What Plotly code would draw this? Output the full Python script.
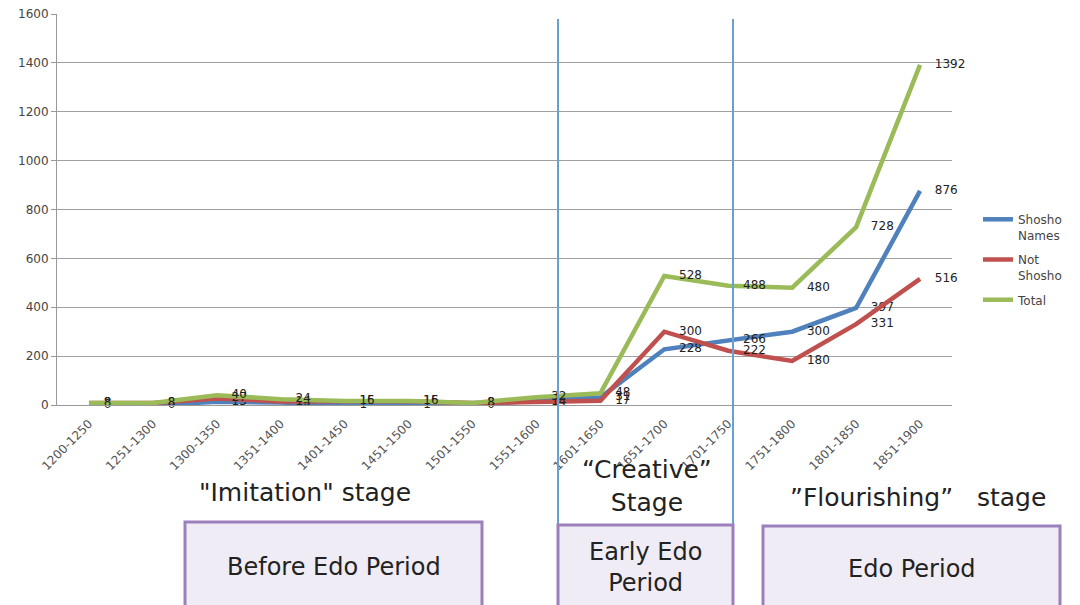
import plotly.graph_objects as go

# Half-century periods
periods = ["1200-1250", "1251-1300", "1300-1350", "1351-1400", "1401-1450",
           "1451-1500", "1501-1550", "1551-1600", "1601-1650", "1651-1700",
           "1701-1750", "1751-1800", "1801-1850", "1851-1900"]

shosho_names = [0, 0, 13, 10, 1, 1, 0, 18, 31, 228, 266, 300, 397, 876]
not_shosho = [8, 8, 27, 14, 15, 15, 8, 14, 17, 300, 222, 180, 331, 516]
total = [8, 8, 40, 24, 16, 16, 8, 32, 48, 528, 488, 480, 728, 1392]

series = [
    ("Shosho<br>Names", shosho_names, "#4F81BD"),
    ("Not<br>Shosho", not_shosho, "#C0504D"),
    ("Total", total, "#9BBB59"),
]

FONT = "DejaVu Sans"

fig = go.Figure()
for i, (name, vals, color) in enumerate(series):
    fig.add_trace(go.Scatter(
        x=periods, y=vals, name=name, legendgroup=f"g{i}",
        mode="lines+markers+text",
        line=dict(color=color, width=4.5),
        marker=dict(size=22, color="rgba(0,0,0,0)"),
        text=[str(v) for v in vals],
        textposition="middle right",
        textfont=dict(family=FONT, size=12, color="#222"),
        cliponaxis=False,
    ))

# Pixel layout of the plot area
L, R, T, B = 57, 952, 14, 405
W, H = R - L, B - T


def px(x):
    return (x - L) / W


def py(y):
    return (B - y) / H


shapes = []
# Stage dividers
for xv in (558, 733):
    shapes.append(dict(type="line", xref="paper", yref="paper",
                       x0=px(xv), x1=px(xv), y0=py(19), y1=py(605),
                       line=dict(color="#6A9FD4", width=2), layer="above"))
# Period boxes
boxes = [
    (185, 482, 522, "Before Edo Period", 567),
    (558, 733, 525, "Early Edo<br>Period", 567),
    (763, 1060, 526, "Edo Period", 569),
]
annotations = []
for x0, x1, y0, label, ty in boxes:
    shapes.append(dict(type="rect", xref="paper", yref="paper",
                       x0=px(x0), x1=px(x1), y0=py(y0), y1=py(640),
                       fillcolor="#EFECF5", line=dict(color="#9B80BC", width=3),
                       layer="above"))
    annotations.append(dict(xref="paper", yref="paper", x=px((x0 + x1) / 2), y=py(ty),
                            text=label, showarrow=False, xanchor="center", yanchor="middle",
                            font=dict(family=FONT, size=24, color="#222")))

stages = [
    ('"Imitation" stage', 305, 493),
    ("\u201cCreative\u201d<br>Stage", 647, 486),
    ("\u201dFlourishing\u201d   stage", 918, 497),
]
for text, x, y in stages:
    annotations.append(dict(xref="paper", yref="paper", x=px(x), y=py(y),
                            text=text, showarrow=False, xanchor="center", yanchor="middle",
                            font=dict(family=FONT, size=25, color="#222")))

fig.update_layout(
    width=1080, height=605,
    margin=dict(l=L, r=1080 - R, t=T, b=605 - B),
    paper_bgcolor="white", plot_bgcolor="white",
    font=dict(family=FONT, color="#444"),
    shapes=shapes, annotations=annotations,
    legend=dict(x=px(978), y=py(205), xanchor="left", yanchor="top",
                font=dict(family=FONT, size=12, color="#444"),
                valign="top", itemwidth=30, traceorder="grouped", tracegroupgap=6,
                bgcolor="rgba(0,0,0,0)"),
    xaxis=dict(type="category", range=[-0.5, 13.5], tickangle=-45,
               tickfont=dict(family=FONT, size=12, color="#555"),
               ticklabelstandoff=6,
               showgrid=False, showline=True, linecolor="#999", linewidth=1,
               ticks="", zeroline=False, automargin=False),
    yaxis=dict(range=[0, 1600], dtick=200, showgrid=True, gridcolor="#A0A0A0",
               gridwidth=1, showline=True, linecolor="#999", linewidth=1,
               ticks="outside", ticklen=5, tickcolor="#999",
               tickfont=dict(family=FONT, size=12, color="#444"),
               zeroline=False, automargin=False),
)

fig.write_html("out.html")
